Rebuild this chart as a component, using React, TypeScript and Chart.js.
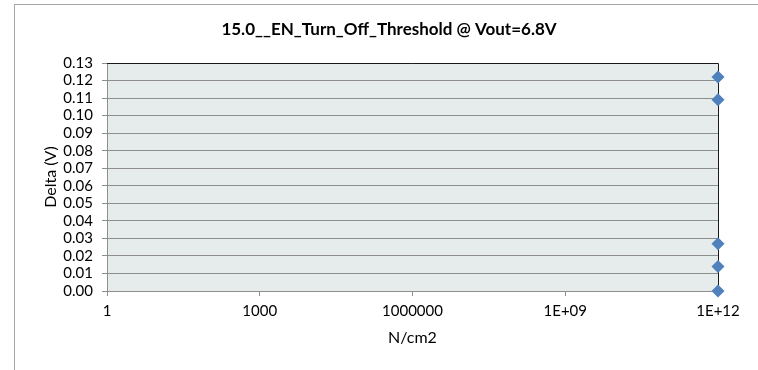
import React, { useEffect, useRef } from "react";
import { Chart, registerables } from "chart.js";

Chart.register(...registerables);

const chartTitle = "15.0__EN_Turn_Off_Threshold @ Vout=6.8V";
const xAxisTitle = "N/cm2";
const yAxisTitle = "Delta (V)";
const xValues = [1e12, 1e12, 1e12, 1e12, 1e12];
const yValues = [0.122, 0.109, 0.027, 0.014, 0.0];
const xTickValues = [1, 1e3, 1e6, 1e9, 1e12];
const xTickLabels = ["1", "1000", "1000000", "1E+09", "1E+12"];
const yMin = 0;
const yMax = 0.13;
const yStep = 0.01;

const FONT = "Lato, 'Open Sans', sans-serif";
const GRID = "#8e8e8e";

const framePlugin = {
  id: "frame",
  beforeDraw(chart: any) {
    const { ctx, chartArea: a } = chart;
    ctx.save();
    ctx.fillStyle = "#ffffff";
    ctx.fillRect(0, 0, chart.width, chart.height);
    ctx.strokeStyle = "#a6a6a6";
    ctx.lineWidth = 1;
    ctx.strokeRect(14.5, 4.5, chart.width + 20, chart.height + 20);
    ctx.fillStyle = "#e6ebeb";
    ctx.fillRect(a.left, a.top, a.right - a.left, a.bottom - a.top);
    ctx.restore();
  },
  beforeDatasetsDraw(chart: any) {
    const { ctx, chartArea: a } = chart;
    const t = Math.round(a.top) + 0.5;
    const r = Math.round(a.right) + 0.5;
    const b = Math.round(a.bottom);
    ctx.save();
    ctx.strokeStyle = "#1a1a1a";
    ctx.lineWidth = 1;
    ctx.beginPath();
    ctx.moveTo(a.left, t);
    ctx.lineTo(r, t);
    ctx.lineTo(r, b);
    ctx.stroke();
    ctx.restore();
  },
};

export default function App() {
  const ref = useRef<HTMLCanvasElement | null>(null);

  useEffect(() => {
    if (!ref.current) return;
    const points = xValues.map((x, i) => ({ x, y: yValues[i] }));
    const chart = new Chart(ref.current, {
      type: "scatter",
      data: {
        datasets: [
          {
            data: points,
            pointStyle: "rectRot",
            pointRadius: 6.5,
            pointBackgroundColor: "#4f81bd",
            pointBorderColor: "#4f81bd",
            pointBorderWidth: 0,
            showLine: false,
            clip: false as any,
          },
        ],
      },
      options: {
        responsive: false,
        animation: false,
        devicePixelRatio: 1,
        layout: { padding: { left: 37, right: 17, top: 0, bottom: 19 } },
        plugins: {
          legend: { display: false },
          tooltip: { enabled: false },
          title: {
            display: true,
            text: chartTitle,
            color: "#000",
            font: { family: FONT, size: 17, weight: "bold" },
            padding: { top: 19.8, bottom: 22.8 },
          },
        },
        scales: {
          x: {
            type: "logarithmic",
            min: xTickValues[0],
            max: xTickValues[xTickValues.length - 1],
            afterBuildTicks: (s: any) => {
              s.ticks = xTickValues.map((v) => ({ value: v }));
            },
            afterFit: (s: any) => {
              s.height = 60;
              s.paddingRight = 40;
            },
            ticks: {
              autoSkip: false,
              maxRotation: 0,
              padding: 6,
              color: "#000",
              font: { family: FONT, size: 15 },
              callback: (_v: any, i: number) => xTickLabels[i],
            },
            grid: { drawOnChartArea: false, drawTicks: true, tickLength: 5, color: GRID },
            border: { display: true, color: GRID },
            title: {
              display: true,
              text: xAxisTitle,
              color: "#000",
              font: { family: FONT, size: 16 },
              padding: { top: 4, bottom: 3.4 },
            },
          },
          y: {
            min: yMin,
            max: yMax,
            afterFit: (s: any) => {
              s.width = 70;
            },
            ticks: {
              stepSize: yStep,
              autoSkip: false,
              padding: 9,
              color: "#000",
              font: { family: FONT, size: 15 },
              callback: (v: any) => Number(v).toFixed(2),
            },
            grid: { color: GRID, tickLength: 5 },
            border: { display: true, color: GRID },
            title: {
              display: true,
              text: yAxisTitle,
              color: "#000",
              font: { family: FONT, size: 16 },
              padding: 4,
            },
          },
        },
      },
      plugins: [framePlugin],
    });
    return () => chart.destroy();
  }, []);

  return (
    <div style={{ position: "fixed", left: 0, top: 0, width: 758, height: 370, background: "#fff" }}>
      <canvas ref={ref} width={758} height={370} style={{ display: "block", width: 758, height: 370 }} />
    </div>
  );
}
